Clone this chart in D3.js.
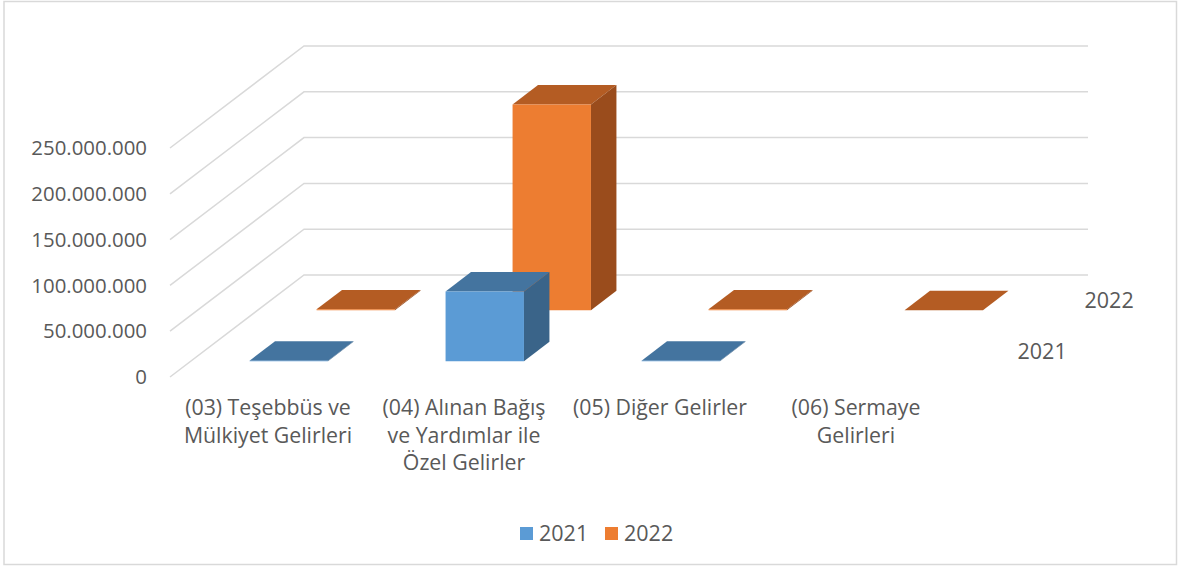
<!DOCTYPE html>
<html>
<head>
<meta charset="utf-8">
<script src="https://cdn.jsdelivr.net/npm/d3@7"></script>
<style>
  html, body { margin: 0; padding: 0; background: #fff; }
  svg { display: block; }
  text { font-family: "Open Sans", "Liberation Sans", sans-serif; fill: #595959; }
</style>
</head>
<body>
<svg id="chart" width="1180" height="571"></svg>
<script>
// ---- data ----
const categories = [
  ["(03) Teşebbüs ve", "Mülkiyet Gelirleri"],
  ["(04) Alınan Bağış", "ve Yardımlar ile", "Özel Gelirler"],
  ["(05) Diğer Gelirler"],
  ["(06) Sermaye", "Gelirleri"]
];
const seriesNames = ["2021", "2022"];
const values2021 = [500000, 76100000, 500000, null];
const values2022 = [900000, 224600000, 900000, 0];
const tickValues = [0, 50000000, 100000000, 150000000, 200000000, 250000000];

// ---- layout ----
const svg = d3.select("#chart");
const front = { left: 170, right: 954, top: 148, bottom: 377 };
const DX = 134, DY = 102; // oblique depth vector

const catKeys = categories.map((c, i) => i);
const x = d3.scaleBand().domain(catKeys).range([front.left, front.right]);
const y = d3.scaleLinear().domain([0, 250000000]).range([front.bottom, front.top]);
const z = d3.scaleBand().domain(seriesNames).range([0, 1]);
const barW = x.bandwidth() * 0.4;
const barD = z.bandwidth() * 0.38;

const P = (px, v, zz) => [px + zz * DX, y(v) - zz * DY];

const colors = {
  "2021": { front: "#5B9BD5", top: "#44749F", side: "#3A6489" },
  "2022": { front: "#ED7D31", top: "#B45C23", side: "#9A4C1C" }
};

// border
svg.append("rect").attr("x", 4).attr("y", 1.5).attr("width", 1172.5).attr("height", 563)
  .attr("fill", "#fff").attr("stroke", "#d9d9d9").attr("stroke-width", 1.5);

// gridlines: side wall diagonals + back wall horizontals
const grid = svg.append("g").attr("stroke", "#d9d9d9").attr("stroke-width", 1.5).attr("fill", "none");
tickValues.forEach(t => {
  const a = P(front.left, t, 0), b = P(front.left, t, 1), c = P(front.right, t, 1);
  grid.append("path").attr("d", d3.line()([a, b, c]));
});

// y-axis labels
const fmt = v => d3.format(",")(v).replace(/,/g, ".");
svg.append("g").selectAll("text").data(tickValues).join("text")
  .attr("x", 147).attr("y", d => y(d)).attr("dy", "0.35em")
  .attr("text-anchor", "end").attr("font-size", 20.4)
  .text(d => fmt(d));

// bars
const bars = [];
[["2022", values2022], ["2021", values2021]].forEach(([s, vals]) => {
  vals.forEach((v, i) => { if (v !== null) bars.push({ s, i, v }); });
});
const gBars = svg.append("g");
bars.forEach(b => {
  const x0 = x(b.i) + x.bandwidth() / 2 - barW / 2, x1 = x0 + barW;
  const z0 = z(b.s) + (z.bandwidth() - barD) / 2, z1 = z0 + barD;
  const c = colors[b.s];
  const poly = pts => "M" + pts.map(p => p.join(",")).join("L") + "Z";
  gBars.append("path").attr("fill", c.top).attr("d",
    poly([P(x0, b.v, z0), P(x1, b.v, z0), P(x1, b.v, z1), P(x0, b.v, z1)]));
  gBars.append("path").attr("fill", c.side).attr("d",
    poly([P(x1, 0, z0), P(x1, b.v, z0), P(x1, b.v, z1), P(x1, 0, z1)]));
  gBars.append("path").attr("fill", c.front).attr("d",
    poly([P(x0, 0, z0), P(x1, 0, z0), P(x1, b.v, z0), P(x0, b.v, z0)]));
});

// category labels
const gCat = svg.append("g");
categories.forEach((lines, i) => {
  const cx = x(i) + x.bandwidth() / 2;
  const t = gCat.append("text").attr("text-anchor", "middle").attr("font-size", 21.3)
    .attr("x", cx).attr("y", 415);
  lines.forEach((ln, k) => t.append("tspan").attr("x", cx)
    .attr("dy", k === 0 ? 0 : 27.5).text(ln));
});

// series (depth) labels
seriesNames.forEach(s => {
  const p = P(front.right, 0, z(s) + z.bandwidth() / 2);
  svg.append("text").attr("x", p[0] + 30).attr("y", p[1]).attr("dy", "0.35em")
    .attr("font-size", 21.5).text(s);
});

// legend
const legend = svg.append("g");
const legItems = [{ s: "2021", x: 520 }, { s: "2022", x: 605 }];
legItems.forEach(it => {
  legend.append("rect").attr("x", it.x).attr("y", 527).attr("width", 13).attr("height", 13)
    .attr("fill", colors[it.s].front);
  legend.append("text").attr("x", it.x + 19).attr("y", 533.5).attr("dy", "0.35em")
    .attr("font-size", 21.5).text(it.s);
});
</script>
</body>
</html>
